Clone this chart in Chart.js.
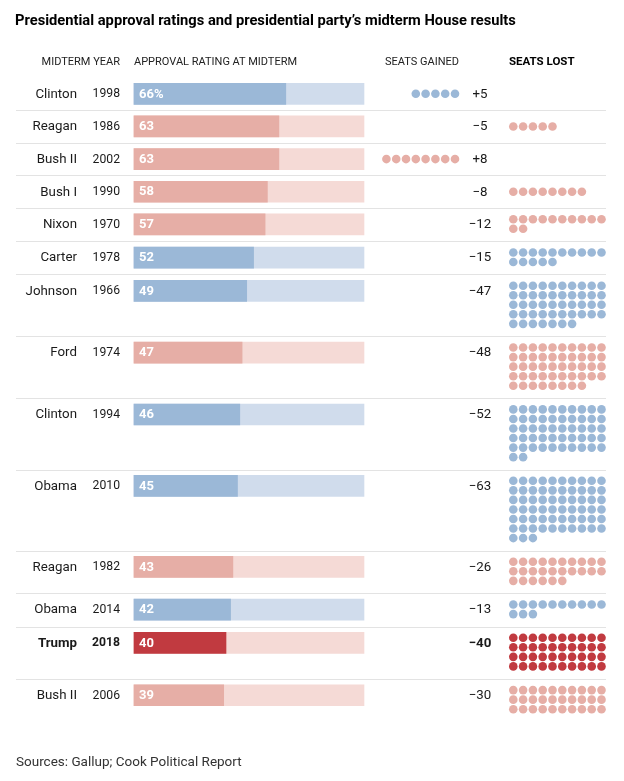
<!DOCTYPE html>
<html><head><meta charset="utf-8">
<script src="https://cdn.jsdelivr.net/npm/chart.js@4.4.0/dist/chart.umd.min.js"></script>
<style>
html,body{margin:0;padding:0;background:#fff;}
#wrap{position:relative;width:624px;height:781px;overflow:hidden;font-family:Roboto,'Liberation Sans',sans-serif;color:#222;}
canvas{position:absolute;left:0;top:0;}
.t{position:absolute;white-space:nowrap;line-height:1;}
.h{font-size:11px;top:56px;color:#222;}
</style></head><body>
<div id="wrap">
<canvas id="c" width="624" height="781"></canvas>
<div class="t" style="left:15px;top:13px;font-size:14.7px;font-weight:700;color:#000">Presidential approval ratings and presidential party’s midterm House results</div>
<div class="t h" style="right:504px">MIDTERM YEAR</div>
<div class="t h" style="left:134px">APPROVAL RATING AT MIDTERM</div>
<div class="t h" style="right:165px">SEATS GAINED</div>
<div class="t h" style="left:509px;font-weight:700;color:#000;font-size:11.5px;top:55.5px">SEATS LOST</div>
<div class="t" style="left:16px;top:755px;font-size:13.5px;color:#333">Sources: Gallup; Cook Political Report</div>
</div>
<script>
// ---- data ----
const presidents = ['Clinton','Reagan','Bush II','Bush I','Nixon','Carter','Johnson','Ford','Clinton','Obama','Reagan','Obama','Trump','Bush II'];
const years      = ['1998','1986','2002','1990','1970','1978','1966','1974','1994','2010','1982','2014','2018','2006'];
const approval   = [66,63,63,58,57,52,49,47,46,45,43,42,40,39];
const seatChange = [5,-5,8,-8,-12,-15,-47,-48,-52,-63,-26,-13,-40,-30];
const party      = ['D','R','R','R','R','D','D','R','D','D','R','D','R','R'];
const highlight  = 'Trump';
const approvalMax = 100;

// ---- styles / layout ----
const COLORS = {
  D: {bar:'#9bb8d7', track:'#d0dcec', dot:'#9bb8d7'},
  R: {bar:'#e6aea6', track:'#f5dad6', dot:'#e6aea6'},
  H: {bar:'#c13a40', track:'#f5dad6', dot:'#c13a40'}
};
const PL = 16, PR = 606, W = PR - PL;
const DOTH = 9.8, DOTV = 9.65, PER_ROW = 10, TOP0 = 74, MINH = 33, BAR_H = 21;
const isHi = i => presidents[i] === highlight && years[i] === '2018';
const pal = i => isHi(i) ? COLORS.H : COLORS[party[i]];

function axisRange(originPx, pxPerUnit, reverse){
  const span = W / pxPerUnit;
  const min = reverse ? -(PR - originPx) / pxPerUnit : -(originPx - PL) / pxPerUnit;
  return {min, max: min + span};
}

// row geometry from seat counts
const tops = [], heights = [], nRows = [];
let yy = TOP0;
seatChange.forEach(s => {
  const n = Math.ceil(Math.abs(s) / PER_ROW);
  const h = Math.max(MINH, n * DOTV + 14.3);
  tops.push(yy); heights.push(h); nRows.push(n); yy += h;
});
const centers = tops.map(t => t + 16.5);

function dotsFor(sign){
  const pts = [], cols = [];
  seatChange.forEach((s, i) => {
    if (Math.sign(s) !== sign) return;
    const n = Math.abs(s);
    for (let k = 0; k < n; k++) {
      const r = Math.floor(k / PER_ROW), c = k % PER_ROW;
      const y = nRows[i] === 1 ? centers[i] : tops[i] + 6.5 + DOTV * (r + 0.5);
      pts.push({x: c, y});
      cols.push(pal(i).dot);
    }
  });
  return {pts, cols};
}
const lost = dotsFor(-1), gained = dotsFor(1);

const fmt = (v, i) => i === 0 ? v + '%' : String(v);
const fmtSeat = s => (s > 0 ? '+' : '\u2212') + Math.abs(s);

const rowText = {
  id: 'rowText',
  beforeDatasetsDraw(chart){
    const ctx = chart.ctx, ys = chart.scales.y;
    ctx.save();
    ctx.strokeStyle = '#e3e3e3'; ctx.lineWidth = 1;
    for (let i = 0; i < tops.length - 1; i++) {
      const p = Math.round(ys.getPixelForValue(tops[i] + heights[i])) + 0.5;
      ctx.beginPath(); ctx.moveTo(PL, p); ctx.lineTo(PR, p); ctx.stroke();
    }
    ctx.restore();
  },
  afterDatasetsDraw(chart){
    const ctx = chart.ctx, ys = chart.scales.y, xb = chart.scales.xBar;
    const F = 'Roboto, "Liberation Sans", sans-serif';
    ctx.save();
    ctx.textBaseline = 'middle';
    presidents.forEach((name, i) => {
      const y = ys.getPixelForValue(centers[i]) + 0.5;
      const b = isHi(i) ? '700 ' : '400 ';
      ctx.fillStyle = '#1a1a1a';
      ctx.textAlign = 'right';
      ctx.font = b + '13.3px ' + F;
      ctx.fillText(name, 77, y);
      ctx.font = b + '12.2px ' + F;
      ctx.fillText(years[i], 120, y);
      ctx.textAlign = 'center';
      ctx.font = b + '13.3px ' + F;
      ctx.fillText(fmtSeat(seatChange[i]), 480, y);
      ctx.textAlign = 'left';
      ctx.fillStyle = '#fff';
      ctx.font = '700 13px ' + F;
      ctx.fillText(fmt(approval[i], i), xb.getPixelForValue(0) + 5, y);
    });
    ctx.restore();
  }
};

new Chart(document.getElementById('c'), {
  type: 'bar',
  data: {
    datasets: [
      {
        type: 'bar', indexAxis: 'y', xAxisID: 'xBar', yAxisID: 'y',
        data: approval.map((v, i) => ({x: v, y: centers[i]})),
        backgroundColor: approval.map((v, i) => pal(i).bar),
        barThickness: BAR_H, grouped: false, order: 1, borderWidth: 0
      },
      {
        type: 'bar', indexAxis: 'y', xAxisID: 'xBar', yAxisID: 'y',
        data: approval.map((v, i) => ({x: approvalMax, y: centers[i]})),
        backgroundColor: approval.map((v, i) => pal(i).track),
        barThickness: BAR_H, grouped: false, order: 2, borderWidth: 0
      },
      {
        type: 'scatter', xAxisID: 'xLost', yAxisID: 'y',
        data: lost.pts, pointBackgroundColor: lost.cols, pointBorderWidth: 0,
        pointRadius: 4.3, pointHoverRadius: 4.3, showLine: false, order: 0
      },
      {
        type: 'scatter', xAxisID: 'xGain', yAxisID: 'y',
        data: gained.pts, pointBackgroundColor: gained.cols, pointBorderWidth: 0,
        pointRadius: 4.3, pointHoverRadius: 4.3, showLine: false, order: 0
      }
    ]
  },
  options: {
    responsive: false, animation: false, events: [],
    devicePixelRatio: 1,
    layout: {padding: {left: PL, right: 624 - PR, top: 0, bottom: 0}},
    plugins: {legend: {display: false}, tooltip: {enabled: false}, title: {display: false}},
    scales: {
      y: {type: 'linear', axis: 'y', min: 0, max: 781, reverse: true, display: false, offset: false, grace: 0},
      xBar: Object.assign({type: 'linear', axis: 'x', display: false, offset: false}, axisRange(134, 2.3, false)),
      xLost: Object.assign({type: 'linear', axis: 'x', display: false, offset: false}, axisRange(513.3, DOTH, false)),
      xGain: Object.assign({type: 'linear', axis: 'x', display: false, offset: false, reverse: true}, axisRange(455, DOTH, true))
    }
  },
  plugins: [rowText]
});
</script>
</body></html>
